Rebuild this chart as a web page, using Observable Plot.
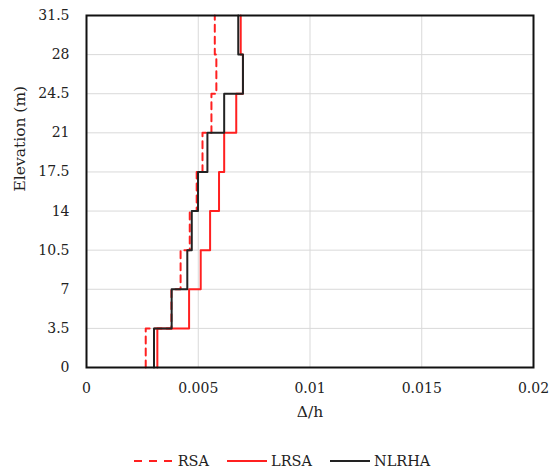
<!DOCTYPE html>
<html>
<head>
<meta charset="utf-8">
<script src="https://cdn.jsdelivr.net/npm/d3@7"></script>
<script src="https://cdn.jsdelivr.net/npm/@observablehq/plot@0.6"></script>
<style>
  body { margin: 0; background: #fff; font-family: "DejaVu Serif", serif; }
  #wrap { position: relative; width: 558px; height: 470px; }
  #legend {
    position: absolute; left: 3px; top: 451px; width: 558px; height: 20px;
    display: flex; justify-content: center; align-items: center; gap: 18px;
    font-size: 14.5px; color: #222;
  }
  .item { display: flex; align-items: center; gap: 4px; }
</style>
</head>
<body>
<div id="wrap">
  <div id="chart"></div>
  <div id="legend"></div>
</div>
<script>
// Storey levels (m): each storey spans base .. base + storeyHeight
const storeyBase = [0, 3.5, 7, 10.5, 14, 17.5, 21, 24.5, 28];
const storeyHeight = 3.5;

// Inter-storey drift ratio Δ/h per storey, bottom to top
const rsa   = [0.00265, 0.00380, 0.00421, 0.00462, 0.00493, 0.00519, 0.00559, 0.00581, 0.00574];
const lrsa  = [0.00317, 0.00459, 0.00511, 0.00553, 0.00593, 0.00616, 0.00670, 0.00700, 0.00690];
const nlrha = [0.00302, 0.00381, 0.00451, 0.00471, 0.00499, 0.00541, 0.00616, 0.00700, 0.00679];

const xTicks = [0, 0.005, 0.01, 0.015, 0.02];
const yTicks = [0, 3.5, 7, 10.5, 14, 17.5, 21, 24.5, 28, 31.5];

const xTitle = "Δ/h";
const yTitle = "Elevation (m)";

const seriesNames = ["RSA", "LRSA", "NLRHA"];
const seriesColors = ["#ff2020", "#ff2020", "#222222"];
const seriesDash = ["7,5", null, null];

// Step profile: each storey contributes a vertical segment at its drift value
function profile(name, values) {
  const pts = [];
  values.forEach((v, i) => {
    pts.push({series: name, drift: v, elev: storeyBase[i]});
    pts.push({series: name, drift: v, elev: storeyBase[i] + storeyHeight});
  });
  return pts;
}
const profiles = [profile("RSA", rsa), profile("LRSA", lrsa), profile("NLRHA", nlrha)];

const fmt = d => String(+d.toFixed(4));

const chart = Plot.plot({
  width: 558,
  height: 430,
  marginLeft: 86,
  marginRight: 25,
  marginTop: 15,
  marginBottom: 63,
  style: {fontFamily: "DejaVu Serif, serif", fontSize: "14px", color: "#222", background: "#fff"},
  x: {domain: [0, 0.02], ticks: xTicks, tickFormat: fmt, tickSize: 0, tickPadding: 16, label: null},
  y: {domain: [0, 31.5], ticks: yTicks, tickFormat: fmt, tickSize: 0, tickPadding: 17, label: null},
  marks: [
    Plot.gridX(xTicks, {stroke: "#d9d9d9", strokeOpacity: 1, strokeWidth: 1}),
    Plot.gridY(yTicks, {stroke: "#d9d9d9", strokeOpacity: 1, strokeWidth: 1}),
    ...profiles.map((pts, k) => Plot.line(pts, {
      x: "drift", y: "elev",
      stroke: seriesColors[k], strokeWidth: 2,
      strokeDasharray: seriesDash[k] ?? undefined
    })),
    Plot.frame({stroke: "#111", strokeWidth: 2}),
    // Axis titles
    Plot.text([xTitle], {frameAnchor: "bottom", text: d => d, dy: 49, fontSize: 15.5, fill: "#222"}),
    Plot.text([yTitle], {frameAnchor: "left", text: d => d, dx: -66, rotate: -90, fontSize: 15.5, fill: "#222"})
  ]
});
document.getElementById("chart").appendChild(chart);

// Legend below the chart
const legend = document.getElementById("legend");
seriesNames.forEach((name, k) => {
  const item = document.createElement("div");
  item.className = "item";
  const dash = seriesDash[k] ? `stroke-dasharray="8,7"` : "";
  item.innerHTML =
    `<svg width="40" height="6"><line x1="0" y1="3" x2="40" y2="3" stroke="${seriesColors[k]}" stroke-width="2" ${dash}/></svg>` +
    `<span>${name}</span>`;
  legend.appendChild(item);
});
</script>
</body>
</html>
